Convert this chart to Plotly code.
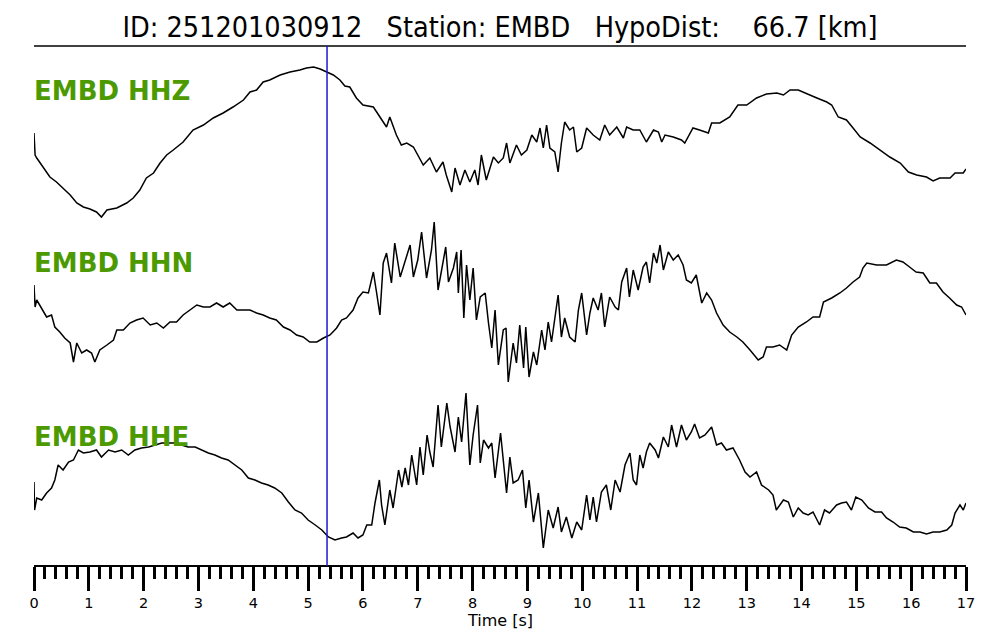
import plotly.graph_objects as go

# ---------------- data ----------------
TITLE = "ID: 251201030912\u00a0\u00a0\u00a0Station: EMBD\u00a0\u00a0\u00a0HypoDist:\u00a0\u00a0\u00a0\u00a066.7 [km]"
STATION = "EMBD"
CHANNELS = ["HHZ", "HHN", "HHE"]
P_PICK = 5.345  # s
TIME_TICKS = list(range(0, 18))
X_LABEL = "Time [s]"

t_hhz = [0, 0.02, 0.05, 0.17, 0.29, 0.41, 0.53, 0.66, 0.78, 0.9, 1.02, 1.14, 1.23, 1.33, 1.51, 1.69, 1.81, 1.93,
         2.05, 2.18, 2.3, 2.42, 2.54, 2.72, 2.9, 3.09, 3.27, 3.45, 3.63, 3.82, 3.94, 4.06, 4.18, 4.3, 4.49, 4.67,
         4.85, 4.97, 5.1, 5.22, 5.34, 5.46, 5.58, 5.67, 5.76, 5.88, 6.0, 6.19, 6.31, 6.43, 6.49, 6.61, 6.7, 6.8,
         6.92, 7.0, 7.1, 7.22, 7.34, 7.46, 7.52, 7.62, 7.68, 7.77, 7.86, 7.95, 8.04, 8.1, 8.16, 8.25, 8.38, 8.47,
         8.56, 8.62, 8.68, 8.8, 8.89, 8.99, 9.08, 9.17, 9.23, 9.29, 9.35, 9.41, 9.5, 9.56, 9.62, 9.68, 9.77, 9.84,
         9.9, 9.99, 10.08, 10.2, 10.32, 10.41, 10.5, 10.63, 10.75, 10.81, 10.93, 11.05, 11.17, 11.3, 11.39, 11.45,
         11.51, 11.66, 11.81, 11.87, 12.02, 12.14, 12.3, 12.36, 12.51, 12.69, 12.84, 13.0, 13.18, 13.36, 13.55,
         13.67, 13.79, 13.94, 14.1, 14.28, 14.46, 14.55, 14.67, 14.82, 14.94, 15.07, 15.25, 15.43, 15.61, 15.8,
         15.95, 16.1, 16.28, 16.4, 16.52, 16.71, 16.8, 16.95, 17.0]
a_hhz = [7, -15, -18, -27, -37, -42, -48, -55, -63, -67, -69, -72, -77, -70, -68, -63, -58, -50,
         -38, -33, -23, -15, -10, -2, 10, 15, 22, 27, 33, 40, 48, 50, 58, 60, 65, 68,
         70, 72, 73, 71, 68, 65, 60, 54, 53, 42, 35, 33, 23, 13, 23, 5, -5, -3,
         -7, -15, -25, -18, -32, -22, -35, -52, -28, -45, -30, -42, -30, -45, -15, -40, -17, -23,
         -18, -3, -23, -5, -15, -10, 5, -2, 12, -8, 15, -8, -12, -32, -3, 18, 10, 13,
         -12, -8, 12, 5, 0, 15, 5, 13, 2, 13, 10, 10, -2, 10, 8, -2,
         5, 3, 0, -3, 12, 10, 7, 17, 17, 23, 35, 35, 42, 46, 47,
         45, 50, 50, 46, 42, 38, 35, 23, 20, 12, 3, -3, -10, -17, -23,
         -32, -35, -37, -41, -38, -38, -33, -33, -29]

t_hhn = [0, 0.02, 0.05, 0.14, 0.23, 0.32, 0.38, 0.47, 0.56, 0.66, 0.72, 0.78, 0.87, 0.96, 1.05, 1.11, 1.2, 1.33,
         1.45, 1.51, 1.63, 1.75, 1.87, 1.99, 2.12, 2.24, 2.36, 2.48, 2.6, 2.72, 2.84, 2.97, 3.09, 3.21, 3.33, 3.45,
         3.57, 3.7, 3.82, 3.94, 4.06, 4.18, 4.3, 4.42, 4.55, 4.67, 4.79, 4.91, 5.03, 5.16, 5.28, 5.4, 5.52, 5.61,
         5.7, 5.82, 5.91, 6.0, 6.1, 6.19, 6.25, 6.31, 6.37, 6.43, 6.52, 6.58, 6.68, 6.77, 6.86, 6.92, 7.0, 7.07,
         7.16, 7.25, 7.3, 7.37, 7.43, 7.51, 7.56, 7.65, 7.71, 7.74, 7.79, 7.84, 7.89, 7.95, 8.01, 8.07, 8.14, 8.23,
         8.29, 8.35, 8.41, 8.47, 8.56, 8.61, 8.65, 8.74, 8.8, 8.86, 8.93, 8.97, 9.03, 9.11, 9.17, 9.26, 9.32, 9.38,
         9.44, 9.5, 9.56, 9.62, 9.68, 9.77, 9.87, 9.93, 9.99, 10.08, 10.14, 10.2, 10.29, 10.35, 10.41, 10.5, 10.6,
         10.66, 10.72, 10.81, 10.86, 10.93, 11.02, 11.11, 11.17, 11.23, 11.3, 11.36, 11.42, 11.48, 11.57, 11.66,
         11.75, 11.84, 11.9, 11.99, 12.08, 12.18, 12.27, 12.36, 12.45, 12.57, 12.69, 12.82, 12.93, 13.06, 13.21,
         13.3, 13.36, 13.48, 13.6, 13.73, 13.82, 13.94, 14.09, 14.21, 14.33, 14.4, 14.55, 14.7, 14.82, 14.94,
         15.06, 15.12, 15.19, 15.37, 15.55, 15.73, 15.85, 15.97, 16.09, 16.22, 16.34, 16.46, 16.58, 16.7, 16.83,
         16.92, 17.0]
a_hhn = [15, -7, 0, -8, -17, -15, -27, -32, -38, -43, -62, -43, -53, -50, -53, -62, -50, -45,
         -40, -30, -30, -23, -20, -18, -25, -23, -28, -22, -22, -15, -10, -5, -7, -7, -3, -7,
         -3, -10, -10, -10, -13, -15, -18, -20, -27, -30, -35, -37, -42, -42, -38, -35, -28, -20,
         -18, -10, 2, 8, 7, 28, 7, -15, 37, 47, 17, 57, 23, 38, 55, 23, 40, 68,
         22, 50, 78, 10, 30, 53, 18, 32, 48, 7, 50, -18, 35, 0, 32, -20, 3, 7,
         -23, -48, -10, -65, -30, -28, -82, -43, -63, -25, -68, -27, -77, -52, -65, -30, -50, -22,
         -42, -17, 5, -37, -18, -37, -42, -10, 7, -35, -13, 2, -10, 7, -27, 3, -7,
         -10, 18, 32, 3, 30, 10, 33, 38, 17, 47, 37, 55, 30, 48, 40,
         45, 35, 20, 17, 25, -3, 7, 0, -13, -25, -32, -37, -42, -50, -60,
         -57, -47, -47, -45, -50, -35, -27, -22, -17, -17, -2, 2, 7, 12, 18,
         23, 32, 37, 35, 35, 40, 38, 33, 28, 27, 17, 17, 8, 2, -5,
         -7, -15]

t_hhe = [0, 0.01, 0.05, 0.14, 0.23, 0.32, 0.38, 0.44, 0.53, 0.63, 0.72, 0.81, 0.9, 1.02, 1.14, 1.23, 1.36, 1.48,
         1.6, 1.72, 1.84, 1.96, 2.09, 2.21, 2.33, 2.45, 2.57, 2.69, 2.81, 2.94, 3.06, 3.18, 3.3, 3.42, 3.54, 3.67,
         3.79, 3.91, 4.03, 4.15, 4.27, 4.39, 4.52, 4.64, 4.76, 4.88, 5.0, 5.13, 5.25, 5.37, 5.49, 5.61, 5.7, 5.82,
         5.91, 6.0, 6.07, 6.16, 6.22, 6.3, 6.34, 6.4, 6.49, 6.55, 6.65, 6.71, 6.77, 6.83, 6.89, 6.98, 7.04, 7.1,
         7.17, 7.22, 7.28, 7.37, 7.43, 7.53, 7.59, 7.68, 7.74, 7.8, 7.88, 7.95, 8.01, 8.09, 8.14, 8.2, 8.29, 8.35,
         8.41, 8.51, 8.62, 8.68, 8.74, 8.83, 8.91, 8.97, 9.03, 9.11, 9.2, 9.29, 9.38, 9.47, 9.56, 9.62, 9.71, 9.81,
         9.9, 9.99, 10.08, 10.14, 10.2, 10.26, 10.35, 10.44, 10.52, 10.6, 10.69, 10.78, 10.87, 10.93, 10.99, 11.05,
         11.11, 11.17, 11.23, 11.33, 11.39, 11.48, 11.57, 11.63, 11.72, 11.81, 11.9, 11.99, 12.05, 12.14, 12.24,
         12.36, 12.45, 12.54, 12.63, 12.75, 12.87, 12.97, 13.06, 13.18, 13.27, 13.4, 13.48, 13.54, 13.67, 13.76,
         13.85, 13.94, 14.03, 14.12, 14.21, 14.33, 14.42, 14.51, 14.64, 14.73, 14.82, 14.91, 14.99, 15.1, 15.22,
         15.34, 15.46, 15.55, 15.67, 15.79, 15.91, 16.04, 16.16, 16.28, 16.4, 16.52, 16.65, 16.74, 16.8, 16.89,
         16.95, 17.0]
a_hhe = [-12, -40, -28, -30, -23, -18, -10, 5, 0, 8, 10, 20, 17, 18, 20, 13, 20, 18,
         20, 15, 20, 22, 23, 25, 27, 27, 27, 25, 23, 23, 20, 17, 15, 12, 10, 5,
         0, -8, -10, -13, -15, -18, -23, -32, -40, -43, -50, -55, -60, -67, -70, -68, -67, -63,
         -68, -65, -55, -55, -33, -10, -35, -55, -20, -38, 0, -17, 2, -15, 15, -15, 23, -5,
         35, 18, 3, 65, 23, 67, 43, 18, 53, 28, 77, 5, 35, 65, 7, 30, 22, 27,
         -8, 37, -23, 13, -13, -10, 0, -38, -10, -52, -23, -78, -40, -58, -37, -62, -47, -68,
         -52, -60, -25, -50, -27, -52, -22, -15, -40, -10, -22, 5, 17, -10, -15, 15,
         2, 18, 27, 20, 12, 33, 23, 45, 23, 45, 30, 38, 46, 32, 35,
         43, 25, 27, 20, 22, 10, -2, -7, -2, -15, -20, -25, -40, -30, -32,
         -47, -38, -43, -45, -42, -55, -40, -43, -35, -33, -32, -40, -27, -30, -38,
         -42, -42, -48, -52, -57, -58, -62, -62, -64, -62, -62, -60, -55, -43, -35,
         -40, -33]

# ---------------- layout constants ----------------
W, H = 1000, 640
trace_offsets = {"HHZ": -140, "HHN": -300, "HHE": -470}
label_y = {"HHZ": 1 - 91 / H, "HHN": 1 - 263 / H, "HHE": 1 - 437 / H}
axis_pos = 1 - 566 / H
top_line = 1 - 46 / H
GREEN = "#4c9a00"
FONT = "DejaVu Sans"
TITLE_FONT = "DejaVu Sans Condensed, Liberation Sans Narrow, DejaVu Sans"

series = {"HHZ": (t_hhz, a_hhz), "HHN": (t_hhn, a_hhn), "HHE": (t_hhe, a_hhe)}

fig = go.Figure()
for ch in CHANNELS:
    t, a = series[ch]
    off = trace_offsets[ch]
    fig.add_trace(go.Scatter(x=t, y=[v + off for v in a], mode="lines",
                             line=dict(color="black", width=1.5), showlegend=False,
                             name=f"{STATION} {ch}", hoverinfo="skip"))

annotations = []
for ch in CHANNELS:
    annotations.append(dict(text=f"<b>{STATION} {ch}</b>", xref="paper", yref="paper",
                            x=0.032, y=label_y[ch], xanchor="left", yanchor="middle",
                            showarrow=False, font=dict(family=FONT, size=26, color=GREEN)))
annotations.append(dict(text=X_LABEL, xref="paper", yref="paper", x=0.5, y=1 - 620 / H,
                        xanchor="center", yanchor="middle", showarrow=False,
                        font=dict(family=FONT, size=16, color="black")))

shapes = [
    dict(type="line", xref="x", yref="paper", x0=0, x1=17, y0=top_line, y1=top_line,
         line=dict(color="black", width=1.5)),
    dict(type="line", xref="x", yref="paper", x0=P_PICK, x1=P_PICK, y0=axis_pos, y1=top_line,
         line=dict(color="#1a1acc", width=1.5)),
]

fig.update_layout(
    template="none",
    width=W, height=H, autosize=False,
    margin=dict(l=0, r=0, t=0, b=0, pad=0, autoexpand=False),
    paper_bgcolor="white", plot_bgcolor="white",
    title=dict(text=TITLE, x=0.5, xanchor="center", y=1 - 27 / H, yanchor="middle",
               xref="paper", yref="container", automargin=False,
               font=dict(family=TITLE_FONT, size=28.5, color="black")),
    xaxis=dict(domain=[34 / W, 966 / W], range=[0, 17], anchor="free", position=axis_pos,
               automargin=False,
               showline=True, linecolor="black", linewidth=2, showgrid=False, zeroline=False,
               ticks="outside", ticklen=24, tickwidth=2.5, tickcolor="black",
               tickmode="array", tickvals=TIME_TICKS, ticktext=[str(v) for v in TIME_TICKS],
               tickfont=dict(family=FONT, size=14.5, color="black"),
               minor=dict(dtick=0.2, tick0=0, ticks="outside", ticklen=12, tickwidth=2.5,
                          tickcolor="black", showgrid=False)),
    yaxis=dict(domain=[0, 1], range=[-H, 0], visible=False, fixedrange=True, automargin=False),
    annotations=annotations,
    shapes=shapes,
)

fig.write_html("out.html", config={"displayModeBar": False},
               post_script="document.body.style.margin='0';")
